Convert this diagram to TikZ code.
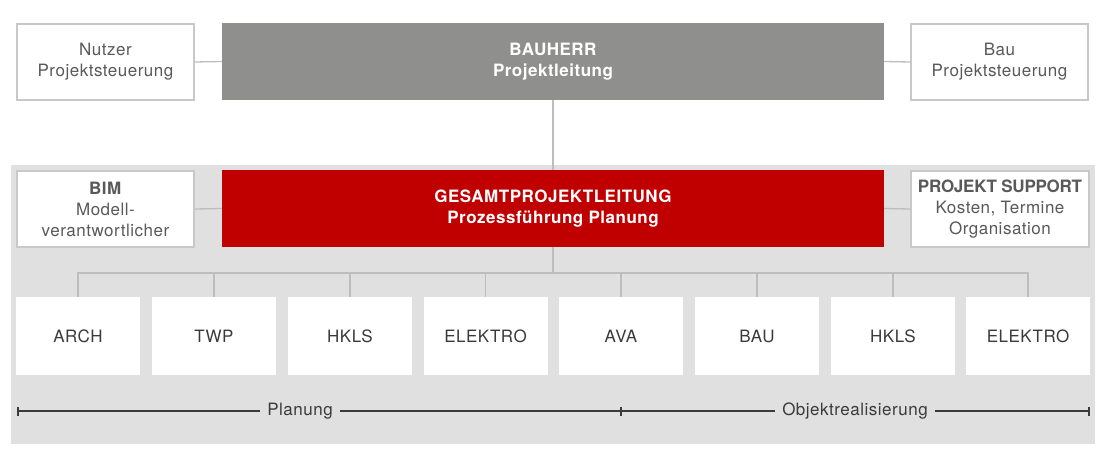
\documentclass[tikz,border=0pt]{standalone}
\usepackage{fontspec}
\setmainfont[LetterSpace=3.0]{TeX Gyre Heros}
\definecolor{bgray}{HTML}{E0E0E0}
\definecolor{boss}{HTML}{8F908D}
\definecolor{redbox}{HTML}{C00000}
\definecolor{lgray}{HTML}{BDBDBD}
\definecolor{bordergray}{HTML}{C8C8C8}
\definecolor{txtgray}{HTML}{595959}
\definecolor{txtdark}{HTML}{3A3A3A}
\tikzset{
  topbox/.style={draw=bordergray, line width=1.3pt, fill=white, minimum width=177pt, minimum height=76pt, inner sep=0pt, align=center, text=txtgray, font=\fontsize{17}{21}\selectfont},
  bigbox/.style={fill=#1, minimum width=662pt, minimum height=77pt, inner sep=0pt, align=center, text=white, font=\fontsize{17}{21}\selectfont\bfseries},
  unitbox/.style={fill=white, minimum width=124pt, minimum height=78pt, inner sep=0pt, text=txtdark, font=\fontsize{17}{21}\selectfont},
  conn/.style={draw=lgray, line width=1.3pt},
  tline/.style={draw=txtdark, line width=1.1pt},
  tlabel/.style={fill=bgray, inner xsep=7pt, inner ysep=2pt, text=txtdark, font=\fontsize{17}{21}\selectfont}
}
\begin{document}
\begin{tikzpicture}[x=1pt,y=-1pt]
\useasboundingbox (0,0) rectangle (1104,471);
\fill[white] (0,0) rectangle (1104,471);
% background of lower group
\fill[bgray] (11,165) rectangle (1095,444);
% top row
\node[topbox] (nutzer) at (105.5,62) {Nutzer\\Projektsteuerung};
\node[bigbox=boss] (bauherr) at (553,61.5) {BAUHERR\\Projektleitung};
\node[topbox] (bau) at (999.5,62) {Bau\\Projektsteuerung};
% middle row
\node[topbox] (bim) at (105.5,209) {\textbf{BIM}\\Modell-\\verantwortlicher};
\node[bigbox=redbox] (gpl) at (553,208.5) {GESAMTPROJEKTLEITUNG\\Prozessführung Planung};
\node[topbox, minimum width=178pt] (support) at (1000,209) {{\addfontfeature{LetterSpace=-1.5}\bfseries PROJEKT SUPPORT}\\Kosten, Termine\\Organisation};
% connectors top
\draw[conn] (nutzer.east) -- (bauherr.west);
\draw[conn] (bauherr.east) -- (bau.west);
\draw[conn] (bauherr.south) -- (gpl.north);
\draw[conn] (bim.east) -- (gpl.west);
\draw[conn] (gpl.east) -- (support.west);
% bottom row
\node[unitbox] (u1) at (78,336) {ARCH};
\node[unitbox] (u2) at (214,336) {TWP};
\node[unitbox] (u3) at (350,336) {HKLS};
\node[unitbox] (u4) at (485.5,336) {ELEKTRO};
\node[unitbox] (u5) at (621,336) {AVA};
\node[unitbox] (u6) at (757,336) {BAU};
\node[unitbox] (u7) at (893,336) {HKLS};
\node[unitbox] (u8) at (1028,336) {ELEKTRO};
% bus
\coordinate (bus) at (553,273);
\draw[conn] (gpl.south) -- (bus);
\draw[conn] (u1.north) |- (u8.north |- bus) -- (u8.north);
\foreach \i in {2,...,7} {\draw[conn] (u\i.north) -- (u\i.north |- bus);}
% timeline
\coordinate (t0) at (18,411);
\coordinate (t1) at (621,411);
\coordinate (t2) at (1089,411);
\draw[tline] (t0) -- (t2);
\foreach \t in {t0,t1,t2} {\draw[tline] ([yshift=-4.5pt]\t) -- ([yshift=4.5pt]\t);}
\node[tlabel] (plan) at (300,411) {Planung};
\node[tlabel] (obj) at (855,411) {Objektrealisierung};
\end{tikzpicture}
\end{document}
